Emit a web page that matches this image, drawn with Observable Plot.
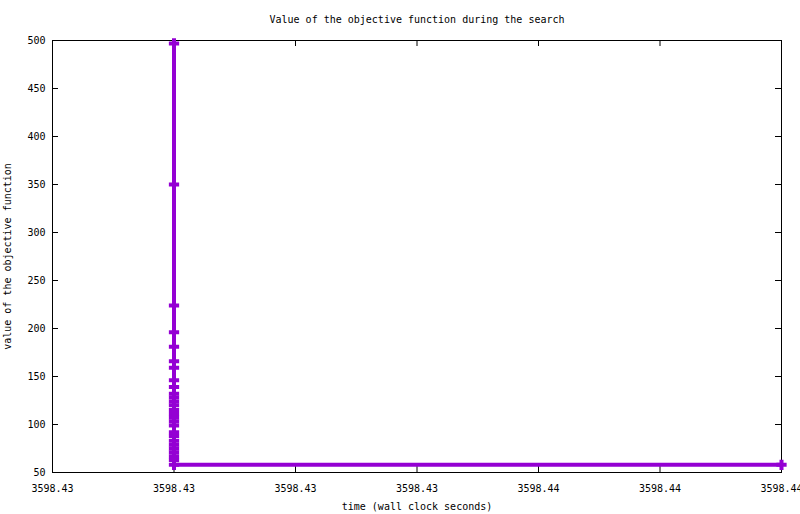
<!DOCTYPE html>
<html><head><meta charset="utf-8">
<script src="https://cdn.jsdelivr.net/npm/d3@7"></script>
<script src="https://cdn.jsdelivr.net/npm/@observablehq/plot@0.6"></script>
<style>body{margin:0;background:#fff} svg{display:block}</style>
</head><body><div id="chart"></div>
<script>
const titleText = "Value of the objective function during the search";
const xLabel = "time (wall clock seconds)";
const yLabel = "value of the objective function";
const times = [3598.430,3598.430,3598.430,3598.430,3598.430,3598.430,3598.430,3598.430,3598.430,3598.430,3598.430,3598.430,3598.430,3598.430,3598.430,3598.430,3598.430,3598.430,3598.430,3598.430,3598.430,3598.430,3598.430,3598.430,3598.430,3598.430,3598.430,3598.440];
const values = [497,350,224,196,181,166,159,146,139,132,128,124,120,115,111,107,103,99,92,88,83,79,75,71,67,63,58,58];
const xTicks = [3598.428,3598.430,3598.432,3598.434,3598.436,3598.438,3598.440];
const yTicks = [50,100,150,200,250,300,350,400,450,500];
const color = "#9400d3";

const data = times.map((t,i)=>({time:t, value:values[i]}));
const W=800,H=514,mL=52,mR=19,mT=40,mB=42;
const plotW=W-mL-mR, plotH=H-mT-mB;
const chart = Plot.plot({
  width:W, height:H, marginLeft:mL, marginRight:mR, marginTop:mT, marginBottom:mB,
  style:{fontFamily:"'DejaVu Sans Mono', monospace", fontSize:"10px", color:"black", background:"white", overflow:"visible"},
  x:{domain:[xTicks[0], xTicks[xTicks.length-1]]},
  y:{domain:[yTicks[0], yTicks[yTicks.length-1]]},
  marks:[
    Plot.frame({stroke:"black"}),
    Plot.ruleX(xTicks,{insetTop:plotH-6, stroke:"black"}),
    Plot.ruleX(xTicks,{insetBottom:plotH-6, stroke:"black"}),
    Plot.ruleY(yTicks,{insetRight:plotW-6, stroke:"black"}),
    Plot.ruleY(yTicks,{insetLeft:plotW-6, stroke:"black"}),
    Plot.axisX({ticks:xTicks, tickFormat:d3.format(".2f"), tickSize:0, tickPadding:12, label:xLabel, labelAnchor:"center", labelArrow:"none", labelOffset:37}),
    Plot.axisY({ticks:yTicks, tickSize:0, tickPadding:7, label:yLabel, labelAnchor:"center", labelArrow:"none"}),
    Plot.line(data,{x:"time", y:"value", stroke:color, strokeWidth:4}),
    Plot.dot(data,{x:"time", y:"value", symbol:"plus", r:3.4, stroke:color, strokeWidth:4, strokeLinecap:"butt"}),
    Plot.text([titleText],{text:d=>d, frameAnchor:"top", dy:-25, fill:"black"})
  ]
});
document.getElementById("chart").appendChild(chart);
</script>
</body></html>
